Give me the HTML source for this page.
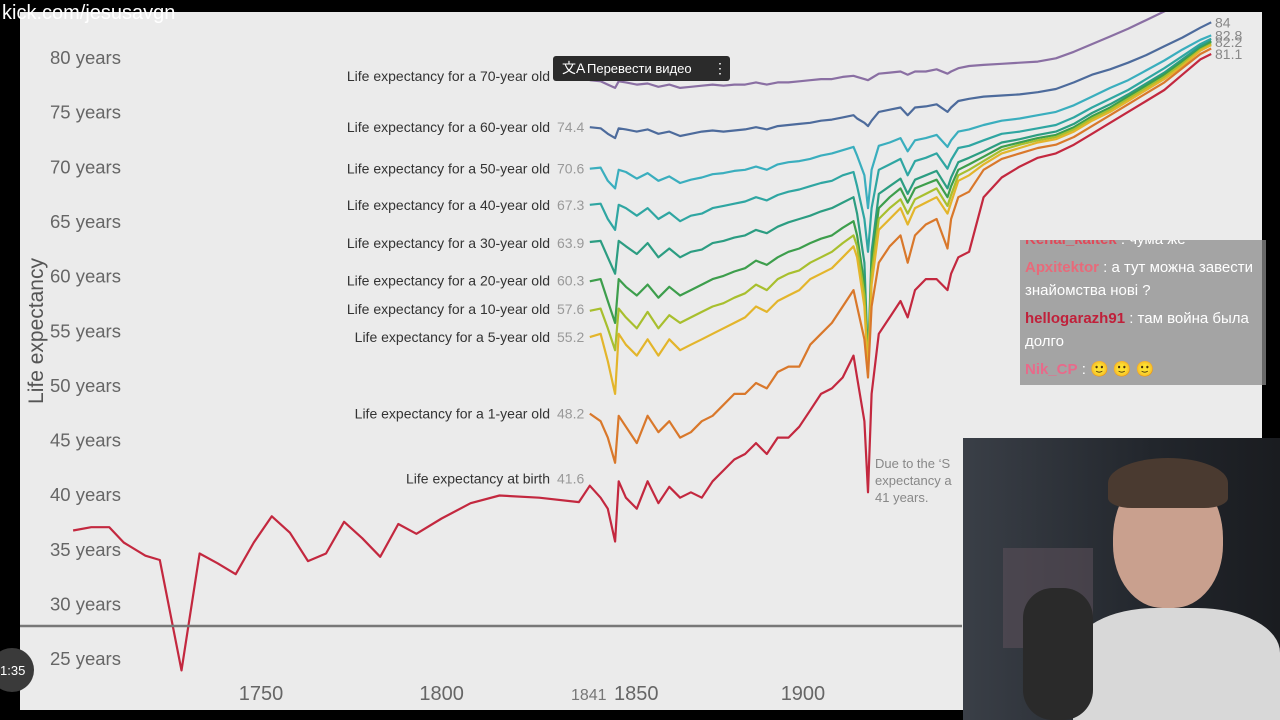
<!DOCTYPE html>
<html><head><meta charset="utf-8">
<style>
html,body{margin:0;padding:0;background:#000;}
body{width:1280px;height:720px;overflow:hidden;position:relative;font-family:"Liberation Sans","Noto Sans CJK JP",sans-serif;}
#chart{position:absolute;left:0;top:0;}
.chat{position:absolute;left:1020px;top:240px;width:246px;height:145px;background:rgba(140,140,140,0.75);overflow:hidden;color:#fff;font-size:15px;line-height:23px;padding:0 0 0 5px;box-sizing:border-box;}
.chat div{margin-bottom:5px;}
.chat .n{font-weight:bold;}
.cam{position:absolute;left:963px;top:438px;width:317px;height:282px;background:linear-gradient(90deg,#3a3f47,#22262c 60%,#1a1c20);overflow:hidden;}
</style></head><body>
<svg id="chart" width="1280" height="720">
  <defs><clipPath id="plotclip"><rect x="20" y="12" width="1242" height="698"/></clipPath></defs>
  <rect x="20" y="12" width="1242" height="698" fill="#ebebeb"/>
  <g id="grid"></g>
  <g id="yticks"></g>
  <g id="xticks"></g>
  <g id="lines" clip-path="url(#plotclip)"></g>
  <g id="labels"></g>
  <text x="43" y="331" transform="rotate(-90 43 331)" text-anchor="middle" font-size="21" fill="#555">Life expectancy</text>
  <line x1="20" y1="626" x2="962" y2="626" stroke="#777" stroke-width="2.5"/>
  <g font-size="13" fill="#888">
    <text x="875" y="468">Due to the ‘S</text><text x="875" y="485">expectancy a</text><text x="875" y="502">41 years.</text>
  </g>
  <g>
    <rect x="553" y="56" width="177" height="25" rx="3" fill="#2b2b2b"/>
    <text x="562" y="73" font-size="14" fill="#fff">文A</text>
    <text x="587" y="73" font-size="13" fill="#fff">Перевести видео</text>
    <text x="713" y="73" font-size="14" fill="#fff">⋮</text>
  </g>
  <text x="2" y="19" font-size="20" fill="#fff">kick.com/jesusavgn</text>
  <circle cx="12" cy="670" r="22" fill="#3a3a3a"/>
  <text x="0" y="675" font-size="13" fill="#fff">1:35</text>
</svg>
<div class="chat">
  <div style="margin-top:-12px"><span class="n" style="color:#e04a5a">Kenai_kaitek</span> : чума же</div>
  <div><span class="n" style="color:#e86a7a">Архitektor</span> : а тут можна завести знайомства нові ?</div>
  <div><span class="n" style="color:#c0203a">hellogarazh91</span> : там война была долго</div>
  <div><span class="n" style="color:#e86a8a">Nik_CP</span> : 🙂 🙂 🙂</div>
</div>
<div class="cam">
  <div style="position:absolute;left:40px;top:110px;width:90px;height:100px;background:#5a4f58;opacity:.6"></div>
  <div style="position:absolute;left:150px;top:30px;width:110px;height:140px;border-radius:50% 50% 45% 45%;background:#c9a08e"></div>
  <div style="position:absolute;left:145px;top:20px;width:120px;height:50px;border-radius:50% 50% 20% 20%;background:#4a3a30"></div>
  <div style="position:absolute;left:110px;top:170px;width:207px;height:112px;border-radius:40% 40% 0 0;background:#d8d8d8"></div>
  <div style="position:absolute;left:60px;top:150px;width:70px;height:132px;background:#2a2a2a;border-radius:30px"></div>
</div>
<script>
const earlyYears=[1698,1703,1708,1712,1718,1722,1728,1733,1738,1743,1748,1753,1758,1763,1768,1773,1778,1783,1788,1793,1800,1808,1816,1827,1838];
const earlyBirth=[37.5,37.8,37.8,36.4,35.2,34.8,24.7,35.4,34.5,33.5,36.4,38.8,37.3,34.7,35.4,38.3,36.8,35.1,38.1,37.2,38.6,40,40.7,40.5,40.1];
const years=[1841,1844,1846,1848,1849,1851,1854,1857,1860,1863,1866,1869,1872,1875,1878,1881,1884,1887,1890,1893,1896,1899,1902,1905,1908,1911,1914,1915,1917,1918,1919,1921,1924,1927,1929,1931,1934,1937,1940,1941,1943,1946,1950,1955,1960,1965,1970,1975,1980,1985,1990,1995,2000,2005,2010,2013];
const s70=[78.7,78.6,78.3,78,78.6,78.5,78.3,78.4,78.1,78.3,78,78.1,78.2,78.3,78.2,78.3,78.3,78.5,78.3,78.5,78.5,78.6,78.7,78.8,78.8,79,79.1,79,78.8,78.7,78.9,79.3,79.4,79.5,79.2,79.5,79.5,79.7,79.3,79.5,79.8,80,80.1,80.2,80.3,80.4,80.7,81.3,82,82.7,83.4,84.2,85,85.8,86.6,87];
const s60=[74.4,74.3,73.8,73.4,74.3,74.2,74,74.2,73.8,74,73.6,73.8,74,74.1,74,74.1,74.2,74.4,74.2,74.5,74.6,74.7,74.8,75,75.1,75.3,75.5,75.2,74.8,74.5,75,75.8,76,76.2,75.5,76.2,76.3,76.5,75.8,76.2,76.8,77,77.2,77.3,77.4,77.6,77.9,78.5,79.2,79.7,80.3,81,81.8,82.6,83.5,84];
const s50=[70.6,70.7,69.5,68.8,70.5,70.3,69.7,70.2,69.5,69.9,69.3,69.6,69.8,70.1,70.2,70.4,70.5,70.8,70.5,71,71.2,71.3,71.5,71.8,72,72.3,72.6,71.8,70,67,70.5,72.7,73,73.4,72.2,73.2,73.4,73.7,72.6,73.2,74,74.2,74.6,75,75.2,75.5,75.8,76.4,77.2,78,78.7,79.6,80.5,81.5,82.4,82.8];
const s40=[67.3,67.4,66,65,67.3,67,66.3,67,66,66.6,65.8,66.3,66.5,67,67.2,67.4,67.6,68,67.7,68.2,68.5,68.7,69,69.3,69.5,70,70.3,69,66,63,67,70.5,71,71.5,70,71.3,71.6,72,70.6,71.4,72.5,72.7,73.2,73.8,74,74.3,74.6,75.3,76.2,77,77.8,78.8,79.8,80.9,82,82.5];
const s30=[63.9,64,62.5,61,64,63.5,62.8,63.8,62.5,63.3,62.5,63,63.2,63.8,64,64.3,64.5,65,64.7,65.3,65.7,66,66.3,66.7,67,67.5,68,66.5,62,53,63,68.3,69,69.7,68.3,69.6,70,70.4,68.8,69.8,71.2,71.6,72.2,73,73.3,73.7,74,74.7,75.7,76.5,77.4,78.4,79.4,80.6,81.8,82.3];
const s20=[60.3,60.5,58.5,56.5,60.5,59.8,59,60,58.8,59.8,59,59.5,60,60.5,60.8,61.2,61.5,62.2,61.8,62.5,63,63.3,63.8,64.2,64.5,65.2,65.8,64.5,60,52.5,62,67,68,68.8,67.5,68.8,69.2,69.6,68,69,70.5,71,71.7,72.6,73,73.4,73.7,74.4,75.4,76.2,77.2,78.2,79.2,80.4,81.6,82.2];
const s10=[57.6,57.8,56,54,57.8,57,56,57.5,56,57.2,56.5,57,57.5,58,58.3,58.8,59.2,60,59.5,60.5,61,61.3,62,62.5,63,63.8,64.5,63.5,59,52.5,61,66,67,67.8,66.5,67.8,68.3,68.8,67.2,68.2,70,70.5,71.3,72.3,72.8,73.2,73.5,74.2,75.2,76,77,78,79,80.2,81.5,82];
const s5=[55.2,55.5,53,50,55.5,54.5,53.5,55,53.5,55,54,54.5,55,55.5,56,56.5,57,58,57.5,58.5,59,59.5,60.5,61,61.5,62.5,63.5,62.5,58,52,60,65,66,67,65.5,67,67.5,68,66.5,67.5,69.5,70,71,72,72.5,73,73.3,74,75,75.8,76.8,77.8,78.8,80,81.4,81.9];
const s1=[48.2,47.5,46,43.7,48,47,45.5,48,46.5,47.5,46,46.5,47.5,48,49,50,50,51,50.5,52,52.5,52.5,54.5,55.5,56.5,58,59.5,58,55,51.5,58,62,63.5,64.5,62,64.5,65.5,66,63.3,66,68,68.5,70.5,71.5,72,72.5,72.8,73.5,74.5,75.5,76.5,77.5,78.5,79.8,81.1,81.6];
const sBirth=[41.6,40.5,39.5,36.5,42,40.5,39.5,42,40,41.5,40.5,41,40.5,42,43,44,44.5,45.5,44.5,46,46,47,48.5,50,50.5,51.5,53.5,51.5,47.5,41,50,55.5,57,58.5,57,59.5,60.5,60.5,59.5,61,62.5,63,68,69.8,70.8,71.6,72,72.8,73.8,74.8,75.8,76.8,77.8,79.2,80.6,81.1];
const seriesNames=["70-year old","60-year old","50-year old","40-year old","30-year old","20-year old","10-year old","5-year old","1-year old","birth"];
const yTicks=[80,75,70,65,60,55,50,45,40,35,30,25];
const xTicks=[1750,1800,1850,1900];

const NS="http://www.w3.org/2000/svg";
function xS(y){return 261+(y-1750)*3.613;}
function yS(v){return 66+(80-v)*10.93;}
function mk(tag,attrs,parent){const e=document.createElementNS(NS,tag);for(const k in attrs)e.setAttribute(k,attrs[k]);parent.appendChild(e);return e;}

const gy=document.getElementById('yticks');
yTicks.forEach(t=>{
  const e=mk('text',{x:50,y:yS(t)-2,'font-size':18.5,fill:'#666'},gy);
  
  
  e.textContent=t+' years';
});
const gx=document.getElementById('xticks');
xTicks.forEach(t=>{
  const e=mk('text',{x:xS(t)+(t===1850?14:0),y:700,'font-size':20,fill:'#666','text-anchor':'middle'},gx);
  
  
  e.textContent=t;
});
const e1841=mk('text',{x:xS(1841)-1,y:700,'font-size':16,fill:'#777','text-anchor':'middle'},gx);


e1841.textContent='1841';

const series=[s70,s60,s50,s40,s30,s20,s10,s5,s1,sBirth];
const labelShift=[-3,1,1,1,2,0,-1,1,1,-6];
const colors=['#8a6fa3','#4d6b9c','#3aaebe','#2fa6a2','#2c9d82','#3d9e4c','#a8bf2e','#e3b52b','#d9782b','#c3283f'];
const gl=document.getElementById('lines');
const glab=document.getElementById('labels');
series.forEach((s,i)=>{
  let xs=years.slice(), vs=s.slice();
  if(i===9){xs=earlyYears.concat(xs);vs=earlyBirth.concat(vs);}
  const d=xs.map((y,j)=>(j?'L':'M')+xS(y).toFixed(1)+','+yS(vs[j]).toFixed(1)).join('');
  const p=mk('path',{d:d,fill:'none',stroke:colors[i],'stroke-width':2.2,'stroke-linejoin':'round'},gl);
  
  
  const ly=yS(s[0])+4+labelShift[i];
  const lt=mk('text',{x:550,y:ly,'font-size':14,fill:'#333','text-anchor':'end'},glab);
  
  
  lt.textContent=i===9?'Life expectancy at birth':'Life expectancy for a '+seriesNames[i];
  const vt=mk('text',{x:557,y:ly,'font-size':14,fill:'#999'},glab);
  
  
  vt.textContent=s[0];
});
const ends=[[1,'84'],[2,'82.8'],[5,'82.2'],[9,'81.1']];
ends.forEach(([i,t])=>{
  const s=series[i];
  const et=mk('text',{x:1215,y:yS(s[s.length-1])+5,'font-size':14,fill:'#888'},glab);
  
  
  et.textContent=t;
});
</script>
</body></html>
